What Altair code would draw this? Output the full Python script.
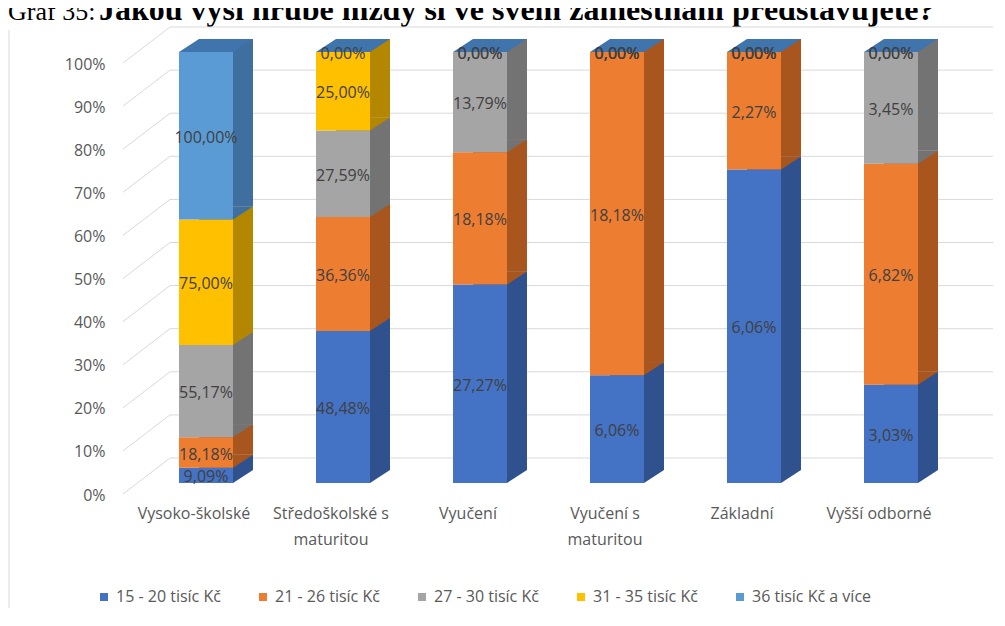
import altair as alt
import pandas as pd

categories = ["Vysoko-školské", "Středoškolské s maturitou", "Vyučení",
              "Vyučení s maturitou", "Základní", "Vyšší odborné"]
series = ["15 - 20 tisíc Kč", "21 - 26 tisíc Kč", "27 - 30 tisíc Kč",
          "31 - 35 tisíc Kč", "36 tisíc Kč a více"]

s15_20 = [9.09, 48.48, 27.27, 6.06, 6.06, 3.03]
s21_26 = [18.18, 36.36, 18.18, 18.18, 2.27, 6.82]
s27_30 = [55.17, 27.59, 13.79, 0.00, 0.00, 3.45]
s31_35 = [75.00, 25.00, 0.00, 0.00, 0.00, 0.00]
s36_up = [100.00, 0.00, 0.00, 0.00, 0.00, 0.00]

y_ticks = [0.0, 0.1, 0.2, 0.3, 0.4, 0.5, 0.6, 0.7, 0.8, 0.9, 1.0]

front_colors = ["#4472C4", "#ED7D31", "#A5A5A5", "#FFC000", "#5B9BD5"]
side_colors = ["#2F528F", "#A9561E", "#737373", "#B38700", "#3F6F9E"]
cap_color = "#3F74AD"

title_regular = "Graf 35:"
title_bold = "Jakou výši hrubé mzdy si ve svém zaměstnání představujete?"

rows = []
for si, (name, vals) in enumerate(zip(series, [s15_20, s21_26, s27_30, s31_35, s36_up])):
    for cat, v in zip(categories, vals):
        rows.append({"cat": cat, "series": name, "si": si, "v": v,
                     "lab": f"{v:.2f}".replace(".", ",") + "%"})
df = pd.DataFrame(rows)
ticks_df = pd.DataFrame({"t": y_ticks})

FONT = "Open Sans"
yscale = alt.Scale(domain=[0, 1], nice=False, zero=True)
xscale = alt.Scale(domain=categories, range=[14.5, 836.5], paddingInner=0, paddingOuter=0)

yaxis = alt.Axis(values=y_ticks, format=".0%", labelFont=FONT, labelFontSize=16,
                 labelColor="#595959", domain=False, ticks=False, tickSize=0,
                 grid=False, labelPadding=18, labelOffset=12, title=None)
xaxis = alt.Axis(labelFont=FONT, labelFontSize=16, labelColor="#595959",
                 labelAngle=0, domain=False, ticks=False, tickSize=0, grid=False,
                 labelPadding=22, labelOffset=-12, labelLineHeight=26, title=None,
                 labelExpr="datum.label == 'Středoškolské s maturitou' ? ['Středoškolské s', 'maturitou'] : datum.label == 'Vyučení s maturitou' ? ['Vyučení s', 'maturitou'] : datum.label")

base = alt.Chart(df).transform_stack(
    stack="v", groupby=["cat"], as_=["y0", "y1"], offset="normalize",
    sort=[alt.SortField("si", order="ascending")]
).transform_calculate(mid="(datum.y0 + datum.y1) / 2")

X = alt.X("cat:N", sort=categories, scale=xscale, axis=xaxis)

def Y(field):
    return alt.Y(field, scale=yscale, axis=yaxis)

def side_color():
    return alt.Color("series:N", sort=series,
                     scale=alt.Scale(domain=series, range=side_colors), legend=None)

color_front = alt.Color("series:N", sort=series,
                        scale=alt.Scale(domain=series, range=front_colors),
                        legend=alt.Legend(title=None, orient="none", direction="horizontal",
                                          columns=5, legendX=-27, legendY=537,
                                          symbolType="square", symbolSize=64,
                                          symbolStrokeWidth=0,
                                          labelFont=FONT, labelFontSize=16,
                                          labelColor="#595959", labelOffset=4,
                                          columnPadding=34))

# 3D depth: 20 px to the right, 13 px up
TRI_SIDE = "M -1 0 L -1 -1.3 L 1 -1.3 Z"   # fills the slanted edge on the side face
TRI_TOPL = "M -1 0 L 1 -1.3 L 1 0 Z"       # left corner of the top face

grid_h = alt.Chart(ticks_df).mark_rule(color="#D9D9D9", strokeWidth=1, yOffset=-25).encode(
    y=Y("t:Q"), x=alt.value(47), x2=alt.value(870))
grid_d = alt.Chart(ticks_df).mark_rule(color="#D9D9D9", strokeWidth=1,
                                       yOffset=11, y2Offset=-25).encode(
    y=Y("t:Q"), y2="t:Q", x=alt.value(0), x2=alt.value(47))

back = base.mark_bar(size=54, xOffset=20, yOffset=-13, y2Offset=-13).encode(
    x=X, y=Y("y1:Q"), y2="y0:Q", color=side_color())

side_tri = base.transform_filter("datum.v > 0").mark_point(
    shape=TRI_SIDE, size=400, filled=True, opacity=1, strokeWidth=0, xOffset=37).encode(
    x=X, y=Y("y0:Q"), color=side_color())

top_only = base.transform_filter("datum.si == 4")
cap = top_only.mark_bar(size=34, xOffset=10, yOffset=-13, y2Offset=0, color=cap_color).encode(
    x=X, y=Y("y1:Q"), y2="y1:Q")
cap_r = top_only.mark_point(shape=TRI_SIDE, size=400, filled=True, opacity=1, strokeWidth=0,
                            xOffset=37, color=cap_color).encode(x=X, y=Y("y1:Q"))
cap_l = top_only.mark_point(shape=TRI_TOPL, size=400, filled=True, opacity=1, strokeWidth=0,
                            xOffset=-17, color=cap_color).encode(x=X, y=Y("y1:Q"))

front = base.mark_bar(size=54).encode(
    x=X, y=Y("y1:Q"), y2="y0:Q", color=color_front,
    order=alt.Order("si:Q", sort="ascending"))

labels = base.mark_text(font=FONT, fontSize=16, color="#404040", dy=2).encode(
    x=X, y=Y("mid:Q"), text="lab:N")

border = alt.Chart(ticks_df.head(1)).mark_rule(color="#D9D9D9", strokeWidth=1).encode(
    x=alt.value(-114), y=alt.value(-22), y2=alt.value(575))

t_reg = alt.Chart(ticks_df.head(1)).mark_text(
    font="Liberation Serif", fontSize=26, align="left", baseline="alphabetic",
    color="#000000").encode(x=alt.value(-115), y=alt.value(-32), text=alt.value(title_regular))
t_bold = alt.Chart(ticks_df.head(1)).mark_text(
    font="Liberation Serif", fontSize=32, fontWeight="bold", align="left",
    baseline="alphabetic", color="#000000").encode(
    x=alt.value(-24), y=alt.value(-32), text=alt.value(title_bold))

chart = alt.layer(border, t_reg, t_bold, grid_h, grid_d, back, side_tri,
                  cap, cap_r, cap_l, front, labels).resolve_scale(
    color="independent"
).properties(
    width=870, height=431,
    padding={"left": 115, "top": 44, "right": 2, "bottom": 125},
    autosize=alt.AutoSizeParams(type="none"),
    background="#FFFFFF"
).configure_view(stroke=None)

chart.save("out.html", embed_options={"renderer": "svg", "actions": False})
